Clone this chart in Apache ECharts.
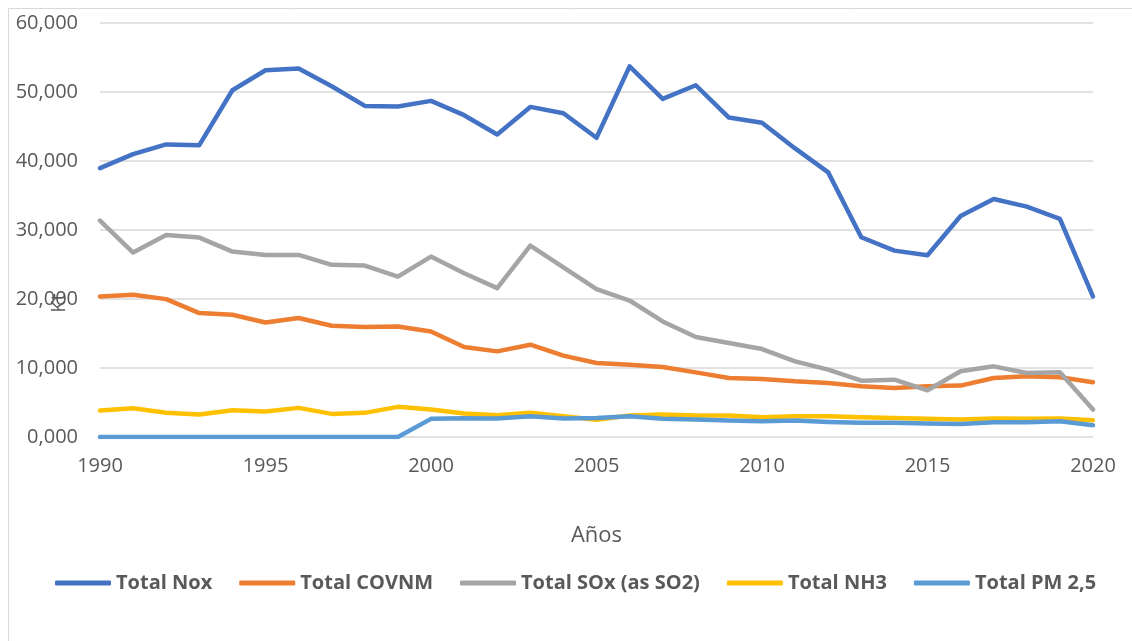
<!DOCTYPE html>
<html>
<head>
<meta charset="utf-8">
<script src="https://cdn.jsdelivr.net/npm/echarts@6/dist/echarts.min.js"></script>
<style>
  html, body { margin: 0; padding: 0; background: #ffffff; }
  #chart { width: 1132px; height: 641px; }
</style>
</head>
<body>
<div id="chart"></div>
<script>
// Emisiones anuales (Kt), 1990–2020
const years = [1990,1991,1992,1993,1994,1995,1996,1997,1998,1999,2000,2001,2002,2003,2004,2005,2006,2007,2008,2009,2010,2011,2012,2013,2014,2015,2016,2017,2018,2019,2020];

const totalNox = [38.97,41.00,42.40,42.30,50.25,53.15,53.40,50.83,47.98,47.89,48.71,46.64,43.85,47.84,46.92,43.36,53.72,49.00,50.98,46.30,45.53,41.82,38.35,28.95,27.01,26.34,32.03,34.49,33.38,31.60,20.36];
const totalCOVNM = [20.36,20.61,19.98,17.96,17.71,16.60,17.24,16.12,15.93,16.02,15.30,13.04,12.41,13.38,11.79,10.73,10.48,10.15,9.37,8.56,8.42,8.07,7.84,7.35,7.11,7.35,7.45,8.56,8.80,8.65,7.93];
const totalSOx = [31.36,26.73,29.28,28.90,26.87,26.39,26.39,24.95,24.85,23.25,26.15,23.74,21.57,27.74,24.60,21.43,19.78,16.75,14.49,13.62,12.75,10.96,9.76,8.17,8.31,6.77,9.52,10.24,9.28,9.37,3.98];
const totalNH3 = [3.83,4.17,3.50,3.25,3.88,3.69,4.22,3.35,3.50,4.37,3.98,3.40,3.15,3.50,3.01,2.50,3.11,3.25,3.11,3.11,2.86,3.01,3.01,2.86,2.77,2.63,2.53,2.68,2.63,2.68,2.43];
const totalPM25 = [0,0,0,0,0,0,0,0,0,0,2.63,2.72,2.68,3.01,2.68,2.77,3.01,2.63,2.53,2.39,2.29,2.39,2.19,2.05,2.05,1.95,1.90,2.14,2.14,2.29,1.71];

const seriesNames = ['Total Nox', 'Total COVNM', 'Total SOx (as SO2)', 'Total NH3', 'Total PM 2,5'];
const seriesValues = [totalNox, totalCOVNM, totalSOx, totalNH3, totalPM25];
const seriesColors = ['#4472C4', '#ED7D31', '#A5A5A5', '#FFC000', '#5B9BD5'];

const yMin = 0, yMax = 60, yStep = 10;
const xMin = 1990, xMax = 2020, xStep = 5;

const FONT = '"Open Sans", "Liberation Sans", sans-serif';
const TEXT = '#595959';

const chart = echarts.init(document.getElementById('chart'), null, { renderer: 'canvas' });

chart.setOption({
  backgroundColor: '#ffffff',
  animation: false,
  graphic: [
    {
      // chart-area frame
      type: 'rect',
      shape: { x: 8.5, y: 8.5, width: 1200, height: 700 },
      style: { fill: 'none', stroke: '#D9D9D9', lineWidth: 1 },
      z: -1
    },
    {
      // vertical axis title
      type: 'text',
      x: 59, y: 303,
      rotation: Math.PI / 2,
      style: {
        text: 'Kt', fill: TEXT, font: '20px ' + FONT,
        align: 'center', verticalAlign: 'middle'
      },
      z: 1
    }
  ],
  grid: { left: 100, right: 39, top: 23, bottom: 204, containLabel: false, outerBoundsMode: 'none' },
  legend: {
    data: seriesNames,
    left: 50,
    top: 568,
    icon: 'roundRect',
    itemWidth: 56,
    itemHeight: 5,
    itemGap: 27,
    textStyle: { color: TEXT, fontFamily: FONT, fontSize: 20, fontWeight: 'bold' }
  },
  xAxis: {
    type: 'value',
    min: xMin, max: xMax, interval: xStep,
    name: 'Años',
    nameLocation: 'middle',
    nameGap: 88,
    nameMoveOverlap: false,
    nameTextStyle: { color: TEXT, fontFamily: FONT, fontSize: 22 },
    axisLine: { show: false },
    axisTick: { show: false },
    splitLine: { show: false },
    axisLabel: { color: TEXT, fontFamily: FONT, fontSize: 20, margin: 19, formatter: v => String(v) }
  },
  yAxis: {
    type: 'value',
    min: yMin, max: yMax, interval: yStep,
    axisLine: { show: false },
    axisTick: { show: false },
    splitLine: { lineStyle: { color: '#D9D9D9', width: 1.5 } },
    axisLabel: {
      color: TEXT, fontFamily: FONT, fontSize: 20, margin: 22,
      formatter: v => v.toFixed(3).replace('.', ',')
    }
  },
  series: seriesNames.map((name, i) => ({
    name,
    type: 'line',
    data: years.map((yr, k) => [yr, seriesValues[i][k]]),
    symbol: 'none',
    smooth: false,
    color: seriesColors[i],
    lineStyle: { color: seriesColors[i], width: 4.5, cap: 'round', join: 'round' },
    itemStyle: { color: seriesColors[i] },
    z: 2 + i
  }))
});
</script>
</body>
</html>
